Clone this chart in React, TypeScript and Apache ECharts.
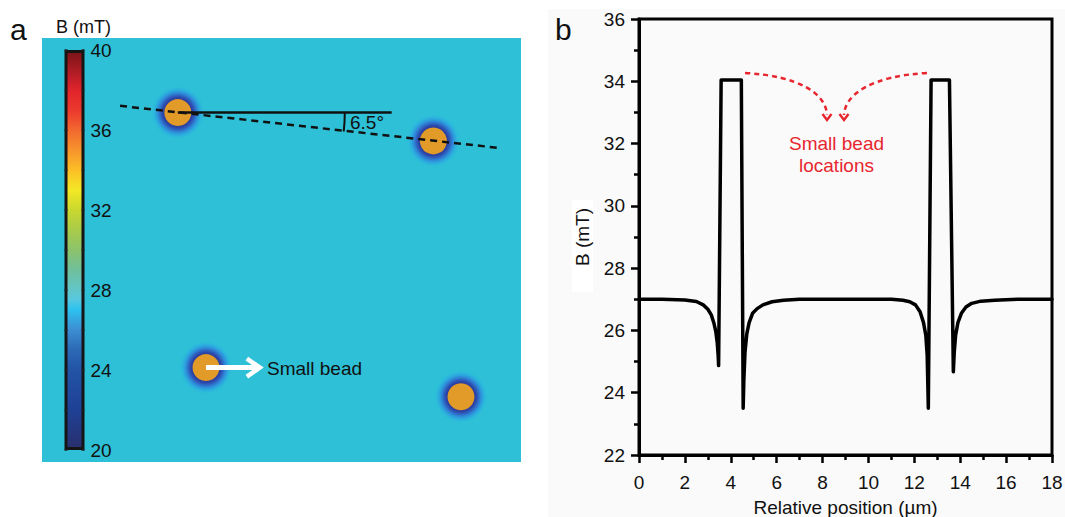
import React, { useEffect, useRef } from "react";
import * as echarts from "echarts";

const FONT = "'Liberation Sans', Arial, Helvetica, sans-serif";

// ---- Panel a: colour bar (mT) ----
const colorbarMin = 20;
const colorbarMax = 40;
const colorbarValues = [40, 38.5, 38, 37, 36, 35, 34, 33, 32, 31, 30, 29, 28, 27.5, 27, 26, 25, 24, 22, 20];
const colorbarColors = [
  "#7a1418", "#c8202a", "#e2252b", "#ec3a2e", "#f26a2f", "#f7952c", "#fbbf26", "#f2e826", "#c9d82f", "#a8cb4a",
  "#8cc36c", "#6fbf9b", "#62c6c8", "#57c8e0", "#2cc2ef", "#3c8fd2", "#2c6ab6", "#2354a6", "#1e4196", "#2a2f6e",
];

// ---- Panel a: bead centres (µm) inside a 17 x 15 µm field ----
const fieldWidthUm = 17;
const fieldHeightUm = 15;
const beadX = [4.82, 13.89, 5.82, 14.87];
const beadY = [12.36, 11.36, 3.34, 2.31];

// ---- Panel b: field profile along the bead line ----
const positionUm = [
  0, 1, 2, 2.5, 2.8, 3.0, 3.15, 3.27, 3.35, 3.41, 3.45, 3.47,
  3.58, 4.46,
  4.54, 4.57, 4.62, 4.7, 4.8, 4.95, 5.15, 5.4, 5.8, 6.3, 7,
  9, 11, 11.5, 11.8, 12.05, 12.25, 12.4, 12.5, 12.56, 12.61,
  12.73, 13.53,
  13.7, 13.74, 13.8, 13.9, 14.05, 14.25, 14.5, 14.9, 15.5, 16.5, 18,
];
const fieldMT = [
  27.0, 27.0, 26.98, 26.93, 26.82, 26.68, 26.5, 26.22, 25.95, 25.6, 25.2, 24.87,
  34.04, 34.04,
  23.5, 24.4, 25.3, 25.9, 26.25, 26.55, 26.7, 26.82, 26.92, 26.97, 27.0,
  27.0, 27.0, 26.97, 26.92, 26.82, 26.6, 26.25, 25.85, 25.2, 23.5,
  34.04, 34.04,
  24.67, 25.3, 25.85, 26.25, 26.55, 26.75, 26.87, 26.94, 26.97, 27.0, 27.0,
];
const xRangeB = [0, 18];
const yRangeB = [22, 36];

export default function App() {
  const ref = useRef<HTMLDivElement>(null);

  useEffect(() => {
    if (!ref.current) return;
    const chart = echarts.init(ref.current, undefined, { renderer: "svg" });

    const cbGradient = new echarts.graphic.LinearGradient(
      0, 0, 0, 1,
      colorbarValues.map((v, i) => ({
        offset: (colorbarMax - v) / (colorbarMax - colorbarMin),
        color: colorbarColors[i],
      }))
    );

    const beads = beadX.map((x, i) => [x, beadY[i]]);
    const profile = positionUm.map((x, i) => [x, fieldMT[i]]);

    const glow = new echarts.graphic.RadialGradient(0.5, 0.5, 0.5, [
      { offset: 0, color: "#22307f" },
      { offset: 0.5, color: "#2a3c9c" },
      { offset: 0.58, color: "#2d4db0" },
      { offset: 0.72, color: "#2f86d8" },
      { offset: 0.88, color: "rgba(40,170,230,0.45)" },
      { offset: 1, color: "rgba(46,192,214,0)" },
    ]);

    const FS = 19;

    chart.setOption({
      animation: false,
      backgroundColor: "#ffffff",
      textStyle: { fontFamily: FONT },
      grid: [
        { left: 64.5, top: 50, width: 20, height: 400, outerBoundsMode: "none", containLabel: false },
        { left: 42, top: 38, width: 479, height: 424, show: true, backgroundColor: "#2ec0d6", borderWidth: 0, z: -1, outerBoundsMode: "none", containLabel: false },
        { left: 639, top: 19, width: 413, height: 436, show: true, borderColor: "#000", borderWidth: 3, backgroundColor: "transparent", outerBoundsMode: "none", containLabel: false },
      ],
      xAxis: [
        { gridIndex: 0, type: "category", data: ["B"], show: false },
        { gridIndex: 1, type: "value", min: 0, max: fieldWidthUm, show: false },
        {
          gridIndex: 2, type: "value", min: xRangeB[0], max: xRangeB[1], interval: 2,
          name: "Relative position (µm)", nameLocation: "middle", nameGap: 43,
          nameTextStyle: { fontSize: FS, color: "#111", fontFamily: FONT },
          axisLine: { show: true, onZero: false, lineStyle: { color: "#000", width: 3 } },
          axisTick: { show: true, length: 8, lineStyle: { color: "#000", width: 2.5 } },
          minorTick: { show: true, splitNumber: 2, length: 5, lineStyle: { color: "#000", width: 2.5 } },
          axisLabel: { fontSize: FS, color: "#111", margin: 18, fontFamily: FONT },
          splitLine: { show: false },
        },
      ],
      yAxis: [
        {
          gridIndex: 0, type: "value", min: colorbarMin, max: colorbarMax, interval: 2, position: "right", z: 5,
          axisLine: { show: false },
          axisTick: { show: true, inside: true, length: 3, lineStyle: { color: "#222", width: 1.5 } },
          axisLabel: {
            fontSize: FS, color: "#111", margin: 6, fontFamily: FONT,
            formatter: (v: number) => (v % 4 === 0 ? String(v) : ""),
          },
          splitLine: { show: false },
        },
        {
          gridIndex: 0, type: "value", min: colorbarMin, max: colorbarMax, interval: 2, position: "left", z: 5,
          axisLine: { show: false },
          axisTick: { show: true, inside: true, length: 3, lineStyle: { color: "#222", width: 1.5 } },
          axisLabel: { show: false },
          splitLine: { show: false },
        },
        { gridIndex: 1, type: "value", min: 0, max: fieldHeightUm, show: false },
        {
          gridIndex: 2, type: "value", min: yRangeB[0], max: yRangeB[1], interval: 2,
          name: "B (mT)", nameLocation: "middle", nameGap: 47,
          nameTextStyle: { fontSize: FS, color: "#111", fontFamily: FONT },
          axisLine: { show: true, onZero: false, lineStyle: { color: "#000", width: 3 } },
          axisTick: { show: true, length: 8, lineStyle: { color: "#000", width: 2.5 } },
          minorTick: { show: true, splitNumber: 2, length: 5, lineStyle: { color: "#000", width: 2.5 } },
          axisLabel: { fontSize: FS, color: "#111", margin: 14, fontFamily: FONT },
          splitLine: { show: false },
        },
      ],
      series: [
        {
          type: "bar", xAxisIndex: 0, yAxisIndex: 0, stack: "cb", data: [colorbarMin],
          barWidth: "100%", itemStyle: { color: "transparent" }, silent: true,
        },
        {
          type: "bar", xAxisIndex: 0, yAxisIndex: 0, stack: "cb", data: [colorbarMax - colorbarMin],
          barWidth: "100%", clip: false, silent: true,
          itemStyle: { color: cbGradient, borderColor: "#151515", borderWidth: 3 },
        },
        {
          type: "scatter", xAxisIndex: 1, yAxisIndex: 2, data: beads, symbolSize: 54, silent: true, z: 2,
          itemStyle: { color: glow, opacity: 1 },
        },
        {
          type: "scatter", xAxisIndex: 1, yAxisIndex: 2, data: beads, symbolSize: 27, silent: true, z: 3,
          itemStyle: { color: "#e29a28", opacity: 1 },
        },
        {
          type: "line", xAxisIndex: 1, yAxisIndex: 2, data: [[beadX[0], beadY[0]], [12.41, beadY[0]]],
          symbol: "none", silent: true, z: 4, lineStyle: { color: "#111", width: 2.5 },
        },
        {
          type: "line", xAxisIndex: 1, yAxisIndex: 2, data: [[2.77, 12.6], [16.31, 11.1]],
          symbol: "none", silent: true, z: 4, lineStyle: { color: "#111", width: 2.5, type: [7, 5] },
        },
        {
          type: "line", xAxisIndex: 1, yAxisIndex: 2, data: [[beadX[2], beadY[2]], [7.66, beadY[2]]],
          symbol: "none", silent: true, z: 4, lineStyle: { color: "#ffffff", width: 5 },
        },
        {
          type: "line", xAxisIndex: 1, yAxisIndex: 2, data: [[7.27, 3.66], [7.73, 3.34], [7.27, 3.02]],
          symbol: "none", silent: true, z: 4, lineStyle: { color: "#ffffff", width: 4.5, join: "miter" },
        },
        {
          type: "line", xAxisIndex: 2, yAxisIndex: 3, data: profile, symbol: "none", silent: true, z: 5,
          lineStyle: { color: "#000", width: 3.5, join: "round", cap: "round" },
        },
      ],
      graphic: [
        { type: "rect", z: -100, silent: true, shape: { x: 548, y: 9, width: 517, height: 508 }, style: { fill: "#fafafa" } },
        { type: "rect", z: -99, silent: true, shape: { x: 572, y: 200, width: 21, height: 92 }, style: { fill: "#ffffff" } },
        { type: "text", z: 100, x: 10, y: 29, style: { text: "a", fontSize: 30, fill: "#111", fontFamily: FONT, verticalAlign: "middle" } },
        { type: "text", z: 100, x: 555, y: 29, style: { text: "b", fontSize: 30, fill: "#111", fontFamily: FONT, verticalAlign: "middle" } },
        { type: "text", z: 100, x: 83.5, y: 27, style: { text: "B (mT)", fontSize: 18, fill: "#111", fontFamily: FONT, align: "center", verticalAlign: "middle" } },
        {
          type: "arc", z: 100, silent: true,
          shape: { cx: 177.8, cy: 112.6, r: 167, startAngle: 0, endAngle: (6.5 * Math.PI) / 180, clockwise: true },
          style: { stroke: "#111", lineWidth: 2, fill: "none" },
        },
        { type: "text", z: 100, x: 350, y: 122.5, style: { text: "6.5°", fontSize: FS, fill: "#111", fontFamily: FONT, verticalAlign: "middle" } },
        { type: "text", z: 100, x: 267, y: 368, style: { text: "Small bead", fontSize: FS, fill: "#111", fontFamily: FONT, verticalAlign: "middle" } },
        {
          type: "bezierCurve", z: 100, silent: true,
          shape: { x1: 745, y1: 73, cpx1: 800, cpy1: 76, cpx2: 826, cpy2: 94, x2: 827, y2: 115 },
          style: { stroke: "#e8262f", lineWidth: 2.5, lineDash: [5, 4], fill: "none" },
        },
        {
          type: "bezierCurve", z: 100, silent: true,
          shape: { x1: 927, y1: 73, cpx1: 872, cpy1: 76, cpx2: 845, cpy2: 94, x2: 844, y2: 115 },
          style: { stroke: "#e8262f", lineWidth: 2.5, lineDash: [5, 4], fill: "none" },
        },
        { type: "polyline", z: 100, silent: true, shape: { points: [[822.5, 114], [827, 120], [831.5, 114]] }, style: { stroke: "#e8262f", lineWidth: 2.5, fill: "none" } },
        { type: "polyline", z: 100, silent: true, shape: { points: [[839.5, 114], [844, 120], [848.5, 114]] }, style: { stroke: "#e8262f", lineWidth: 2.5, fill: "none" } },
        { type: "text", z: 100, x: 836.5, y: 143, style: { text: "Small bead", fontSize: FS, fill: "#e8262f", fontFamily: FONT, align: "center", verticalAlign: "middle" } },
        { type: "text", z: 100, x: 836.5, y: 165, style: { text: "locations", fontSize: FS, fill: "#e8262f", fontFamily: FONT, align: "center", verticalAlign: "middle" } },
      ],
    });

    return () => chart.dispose();
  }, []);

  return (
    <div
      ref={ref}
      style={{ position: "fixed", left: 0, top: 0, width: 1065, height: 517, background: "#fff" }}
    />
  );
}
